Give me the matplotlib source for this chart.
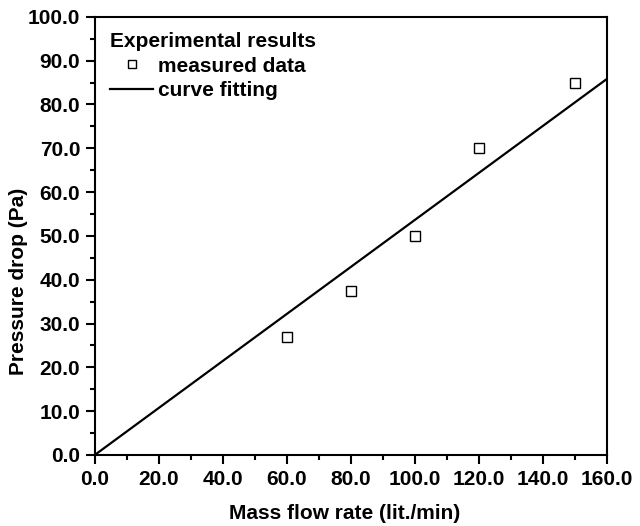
import matplotlib

matplotlib.use("Agg")

import matplotlib.pyplot as plt
from matplotlib.ticker import FormatStrFormatter, MultipleLocator

plt.rcParams["font.family"] = ["Liberation Sans", "DejaVu Sans"]
plt.rcParams["font.weight"] = "bold"

# measured points
flow_rate = [60, 80, 100, 120, 150]
pressure_drop = [27.0, 37.5, 50.0, 70.0, 85.0]

# fitted straight line
fit_x = [0, 160]
fit_y = [0, 85.8]

fig = plt.figure(figsize=(6.4, 5.26), dpi=100)
ax = fig.add_axes([0.148, 0.135, 0.80, 0.833])

line, = ax.plot(fit_x, fit_y, color="black", lw=1.6, label="curve fitting")
pts, = ax.plot(flow_rate, pressure_drop, ls="none", marker="s", ms=7,
               mfc="white", mec="black", mew=1.0, label="measured data")

ax.set_xlim(0, 160)
ax.set_ylim(0, 100)
ax.xaxis.set_major_locator(MultipleLocator(20))
ax.xaxis.set_minor_locator(MultipleLocator(10))
ax.yaxis.set_major_locator(MultipleLocator(10))
ax.yaxis.set_minor_locator(MultipleLocator(5))
ax.xaxis.set_major_formatter(FormatStrFormatter("%.1f"))
ax.yaxis.set_major_formatter(FormatStrFormatter("%.1f"))

ax.tick_params(which="both", direction="out", width=1.5, labelsize=15)
ax.tick_params(which="major", length=6.5, pad=4)
ax.tick_params(which="minor", length=3.6)
for spine in ax.spines.values():
    spine.set_linewidth(1.5)

ax.set_xlabel("Mass flow rate (lit./min)", fontsize=15, fontweight="bold")
ax.set_ylabel("Pressure drop (Pa)", fontsize=15, fontweight="bold")
ax.xaxis.set_label_coords(0.488, -0.112)
ax.yaxis.set_label_coords(-0.131, 0.397)

leg = ax.legend(handles=[pts, line], title="Experimental results", loc="upper left",
                frameon=False, fontsize=15, handlelength=2.05, handletextpad=0.25,
                borderaxespad=0.35, borderpad=0.4, labelspacing=0.25, markerscale=0.75,
                alignment="left", title_fontproperties={"weight": "bold", "size": 15})

fig.savefig("out.png", dpi=100)
